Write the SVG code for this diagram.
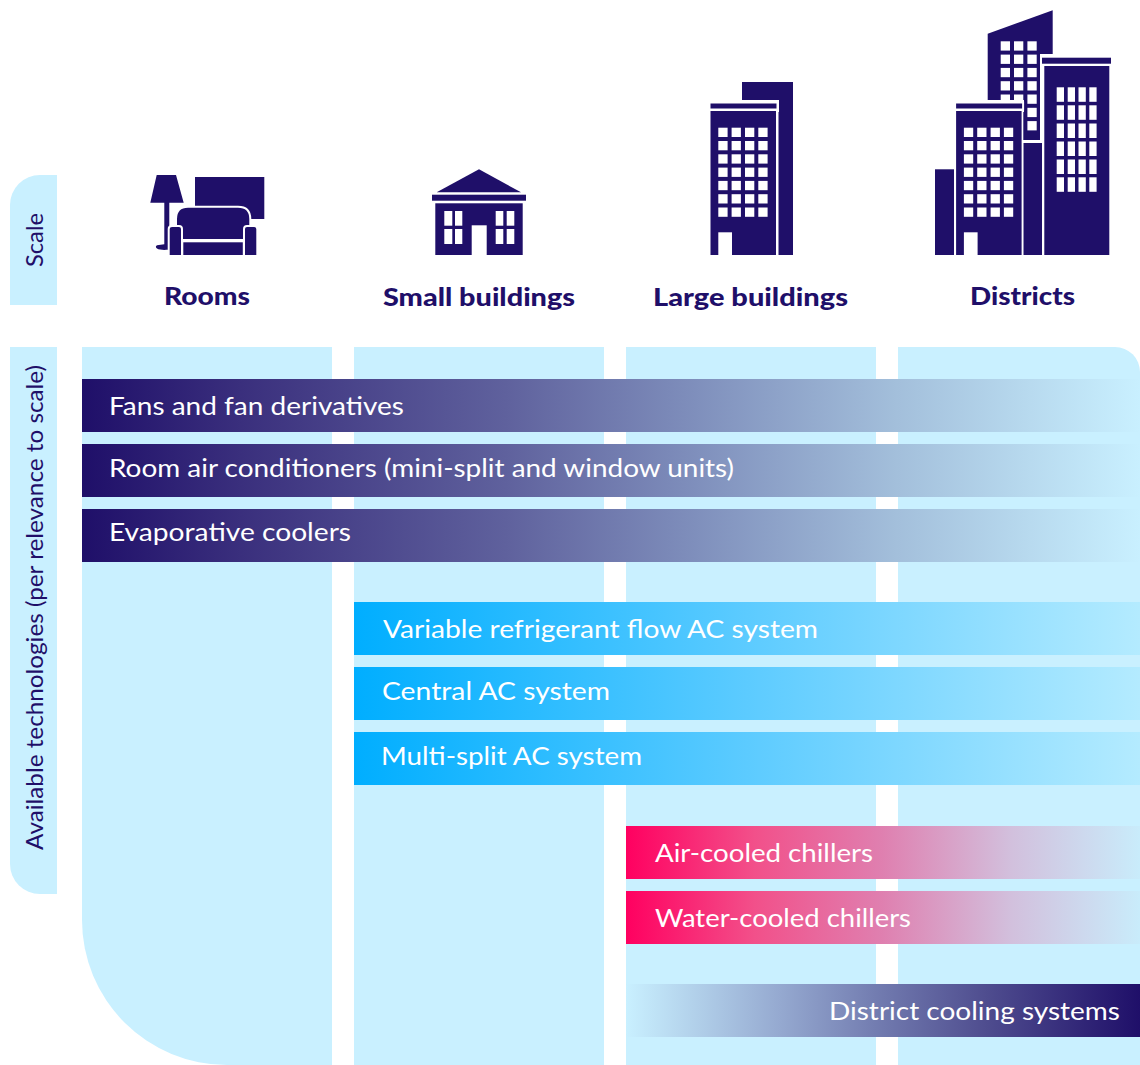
<svg xmlns="http://www.w3.org/2000/svg" xmlns:xlink="http://www.w3.org/1999/xlink" width="1140" height="1065" viewBox="0 0 1140 1065">
<style>
.p{fill:#c9f0ff}
.i{fill:#1f0f69}
.w{fill:#fff}
.ol{fill:#1f0f69;stroke:#fff;stroke-width:2}
text{font-family:"Lato","Open Sans",sans-serif}
.h{font-size:25.5px;font-weight:900;fill:#1f0f69}
.b{font-size:25.5px;fill:#fff}
.s{font-size:22.5px;fill:#1f0f69}
</style>
<defs>
<linearGradient id="gd"><stop offset="0" stop-color="#1f0f69"/><stop offset=".15" stop-color="#3a2f7d"/><stop offset=".4" stop-color="#5f619d"/><stop offset=".58" stop-color="#7f8fbc"/><stop offset=".77" stop-color="#a3bfdb"/><stop offset="1" stop-color="#c9f0ff"/></linearGradient>
<linearGradient id="gb"><stop offset="0" stop-color="#00aeff"/><stop offset=".5" stop-color="#5ccbff"/><stop offset="1" stop-color="#b4ebff"/></linearGradient>
<linearGradient id="gp"><stop offset="0" stop-color="#ff0060"/><stop offset=".25" stop-color="#f2508a"/><stop offset=".5" stop-color="#df80b0"/><stop offset=".75" stop-color="#d2c0dd"/><stop offset="1" stop-color="#c9ecfb"/></linearGradient>
<linearGradient id="gr"><stop offset="0" stop-color="#c9f0ff"/><stop offset=".3" stop-color="#95a9d0"/><stop offset=".5" stop-color="#7079ae"/><stop offset=".7" stop-color="#4f4d8f"/><stop offset="1" stop-color="#1f0f69"/></linearGradient>
<g id="wrow"><rect width="9.3" height="9.3"/><rect x="13.3" width="9.3" height="9.3"/><rect x="26.7" width="9.3" height="9.3"/></g>
<g id="wrow4"><use xlink:href="#wrow"/><rect x="40" width="9.3" height="9.3"/></g>
<g id="wgrid"><use xlink:href="#wrow4"/><use xlink:href="#wrow4" y="13.3"/><use xlink:href="#wrow4" y="26.6"/><use xlink:href="#wrow4" y="39.9"/><use xlink:href="#wrow4" y="53.2"/><use xlink:href="#wrow4" y="66.5"/><use xlink:href="#wrow4" y="79.8"/></g>
<g id="tall"><rect class="ol" x="709.5" y="102.5" width="68" height="7"/><rect class="i" x="710.5" y="111" width="65.5" height="144"/><use xlink:href="#wgrid" x="718.3" y="127.7" class="w"/><rect class="w" x="718.3" y="232.3" width="13.7" height="23"/></g>
</defs>
<g id="panels">
<path class="p" d="M10 305V205A30 30 0 0 1 40 175H57V305Z"/>
<path class="p" d="M10 347H57V894H40A30 30 0 0 1 10 864Z"/>
<path class="p" d="M82 347H332V1065H227A145 145 0 0 1 82 920Z"/>
<rect class="p" x="354" y="347" width="250" height="718"/>
<rect class="p" x="626" y="347" width="250" height="718"/>
<path class="p" d="M898 347H1115A25 25 0 0 1 1140 372V1065H898Z"/>
</g>
<text class="s" transform="translate(43 267) rotate(-90)" textLength="54" lengthAdjust="spacingAndGlyphs">Scale</text>
<text class="s" transform="translate(43 850) rotate(-90)" textLength="485" lengthAdjust="spacingAndGlyphs">Available technologies (per relevance to scale)</text>
<g id="rooms">
<path class="i" d="M150.300 202.700L156.700 175H176L183.700 202.700H169.300V249C169.300 250 160 250.500 157 248.500C155.500 247.500 155.500 246 157 245.300L164.300 244.300V202.700Z"/>
<rect class="i" x="195" y="177" width="69.300" height="42"/>
<path class="ol" d="M176 240V219Q176 206.700 188 206.700H238Q250.300 206.700 250.300 219V240Z"/>
<rect class="i" x="183.300" y="242.300" width="59.500" height="12.700"/>
<path class="ol" d="M168.700 256V229Q168.700 226 172 226H179Q182 226 182 229V256Z"/>
<path class="ol" d="M244 256V229Q244 226 247 226H254Q257.300 226 257.300 229V256Z"/>
<text class="h" x="164" y="305" textLength="86" lengthAdjust="spacingAndGlyphs">Rooms</text>
</g>
<g id="small-buildings">
<path class="i" d="M436.700 192.300L479 169.300L521 192.300Z"/>
<rect class="i" x="432" y="194.700" width="94" height="6"/>
<rect class="i" x="435.300" y="203.300" width="87.400" height="51.700"/>
<g class="w">
<rect x="444.300" y="211" width="8" height="14.700"/><rect x="455" y="211" width="7.300" height="14.700"/>
<rect x="444.300" y="229" width="8" height="15"/><rect x="455" y="229" width="7.300" height="15"/>
<rect x="495.700" y="211" width="7.600" height="14.700"/><rect x="506.700" y="211" width="7.600" height="14.700"/>
<rect x="495.700" y="229" width="7.600" height="15"/><rect x="506.700" y="229" width="7.600" height="15"/>
<rect x="471.700" y="225.300" width="15" height="30"/>
</g>
<text class="h" x="383" y="306" textLength="192" lengthAdjust="spacingAndGlyphs">Small buildings</text>
</g>
<g id="large-buildings">
<rect class="i" x="742" y="82" width="51" height="173"/>
<rect x="708" y="100" width="71" height="12" class="w"/><rect x="776" y="100" width="2.500" height="156" class="w"/>
<use xlink:href="#tall"/>
<text class="h" x="653" y="306" textLength="195" lengthAdjust="spacingAndGlyphs">Large buildings</text>
</g>
<g id="districts">
<path class="i" d="M987.700 33.700L1052.700 10.300V140H987.700Z"/>
<g class="w">
<use xlink:href="#wrow" x="1000.700" y="41.300"/><use xlink:href="#wrow" x="1000.700" y="54.600"/><use xlink:href="#wrow" x="1000.700" y="67.900"/><use xlink:href="#wrow" x="1000.700" y="81.200"/><use xlink:href="#wrow" x="1000.700" y="94.500"/>
<rect x="1027.400" y="107.800" width="9.300" height="9.300"/><rect x="1027.400" y="121.100" width="9.300" height="9.300"/>
</g>
<rect class="w" x="1040" y="54" width="72" height="202"/>
<rect class="i" x="1042" y="57.700" width="69" height="6"/>
<rect class="i" x="1044.300" y="66" width="65" height="189"/>
<g class="w">
<g id="dr1"><rect x="1056.700" y="87.300" width="7.300" height="14.500"/><rect x="1067.700" y="87.300" width="7.300" height="14.500"/><rect x="1078.500" y="87.300" width="7.300" height="14.500"/><rect x="1089.300" y="87.300" width="7.300" height="14.500"/></g>
<use xlink:href="#dr1" y="18"/><use xlink:href="#dr1" y="36.200"/><use xlink:href="#dr1" y="54.200"/><use xlink:href="#dr1" y="72.200"/><use xlink:href="#dr1" y="90"/>
</g>
<rect class="i" x="1023.300" y="143" width="18.700" height="112"/>
<rect class="i" x="935" y="169.300" width="19" height="85.700"/>
<rect x="953" y="100" width="71" height="12" class="w"/><rect x="1021" y="100" width="2.300" height="156" class="w"/>
<use xlink:href="#tall" x="245.600"/>
<text class="h" x="970" y="305" textLength="105" lengthAdjust="spacingAndGlyphs">Districts</text>
</g>
<g id="fans"><rect x="82" y="379" width="1058" height="53" fill="url(#gd)"/><text class="b" x="109" y="415" textLength="295" lengthAdjust="spacingAndGlyphs">Fans and fan derivatives</text></g>
<g id="room-ac"><rect x="82" y="444" width="1058" height="53" fill="url(#gd)"/><text class="b" x="109" y="477" textLength="625" lengthAdjust="spacingAndGlyphs">Room air conditioners (mini-split and window units)</text></g>
<g id="evap"><rect x="82" y="509" width="1058" height="53" fill="url(#gd)"/><text class="b" x="109" y="541" textLength="242" lengthAdjust="spacingAndGlyphs">Evaporative coolers</text></g>
<g id="vrf"><rect x="354" y="602" width="786" height="53" fill="url(#gb)"/><text class="b" x="383" y="638" textLength="435" lengthAdjust="spacingAndGlyphs">Variable refrigerant flow AC system</text></g>
<g id="central"><rect x="354" y="667" width="786" height="53" fill="url(#gb)"/><text class="b" x="382" y="700" textLength="228" lengthAdjust="spacingAndGlyphs">Central AC system</text></g>
<g id="multi"><rect x="354" y="732" width="786" height="53" fill="url(#gb)"/><text class="b" x="381" y="765" textLength="261" lengthAdjust="spacingAndGlyphs">Multi-split AC system</text></g>
<g id="air"><rect x="626" y="826" width="514" height="53" fill="url(#gp)"/><text class="b" x="655" y="862" textLength="218" lengthAdjust="spacingAndGlyphs">Air-cooled chillers</text></g>
<g id="water"><rect x="626" y="891" width="514" height="53" fill="url(#gp)"/><text class="b" x="655" y="927" textLength="256" lengthAdjust="spacingAndGlyphs">Water-cooled chillers</text></g>
<g id="district"><rect x="626" y="984" width="514" height="53" fill="url(#gr)"/><text class="b" x="829" y="1020" textLength="291" lengthAdjust="spacingAndGlyphs">District cooling systems</text></g>
</svg>
